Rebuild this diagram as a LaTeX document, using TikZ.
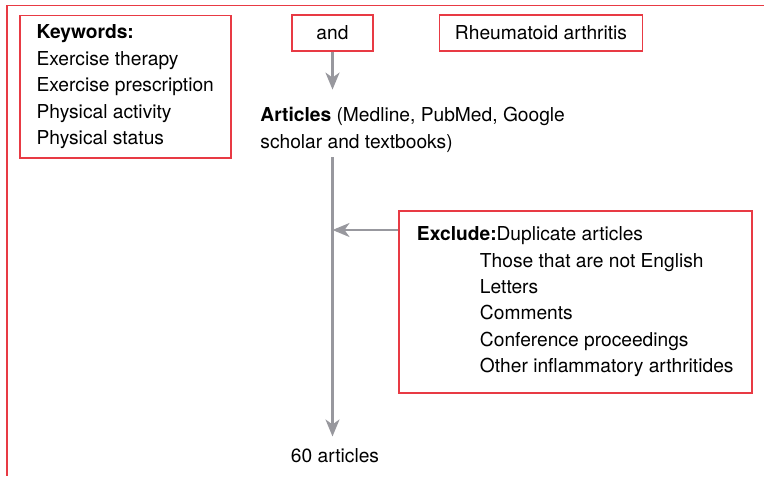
\documentclass[tikz,border=0pt]{standalone}
\usepackage{fontspec}
\setmainfont{TeX Gyre Heros}
\usetikzlibrary{positioning, arrows.meta, calc}
\definecolor{frameRed}{RGB}{232,58,68}
\definecolor{flowGrey}{RGB}{152,152,158}

\begin{document}
\begin{tikzpicture}[
        x=0.5pt, y=-0.5pt,
        font=\fontsize{9.6}{13.2}\selectfont,
        box/.style={rectangle, draw=frameRed, line width=0.75pt, align=left, inner sep=0pt},
        plain/.style={inner sep=0pt, align=left},
        arrow/.style={draw=flowGrey, line width=1.1pt, -{Stealth[length=8.5pt, width=7pt, inset=2.5pt]}},
        ]
        \useasboundingbox (0,0) rectangle (764,476);

        % Outer frame (open at right and bottom)
        \draw[frameRed, line width=0.8pt] (764,5.5) -| (7,476);

        % Keywords
        \node[box, anchor=north west, minimum width=105.5pt, minimum height=71pt] (keywords) at (19,15)
        {\textbf{Keywords:}\\Exercise therapy\\Exercise prescription\\Physical activity\\Physical status};

        % Search terms
        \node[box, minimum width=40.5pt, minimum height=18pt] (andbox) at (332.5,33) {and};
        \node[box, minimum width=101.5pt, minimum height=18pt, right=32.5pt of andbox] (ra)
        {Rheumatoid arthritis};

        % Articles
        \node[plain, anchor=west] (articles) at (260,130)
        {\textbf{Articles} (Medline, PubMed, Google\\scholar and textbooks)};
        \draw[arrow, shorten >=8.8pt] (andbox) -- (andbox |- articles.north);

        % Result
        \node[plain] (sixty) at (335,456) {60 articles};
        \draw[arrow, shorten <=2.3pt, shorten >=6pt] (andbox |- articles.south) -- (andbox |- sixty.north);

        % Exclusions
        \node[box, anchor=north west, minimum width=176.5pt, minimum height=91pt] (exclude) at (398,210)
        {\textbf{Exclude:}Duplicate articles\\
            \hspace*{31.5pt}Those that are not English\\
            \hspace*{31.5pt}Letters\\
            \hspace*{31.5pt}Comments\\
            \hspace*{31.5pt}Conference proceedings\\
            \hspace*{31.5pt}Other inflammatory arthritides};
        \draw[arrow] ([yshift=-10pt]exclude.north west) -- ([yshift=-10pt]exclude.north west -| andbox);
    \end{tikzpicture}
\end{document}
